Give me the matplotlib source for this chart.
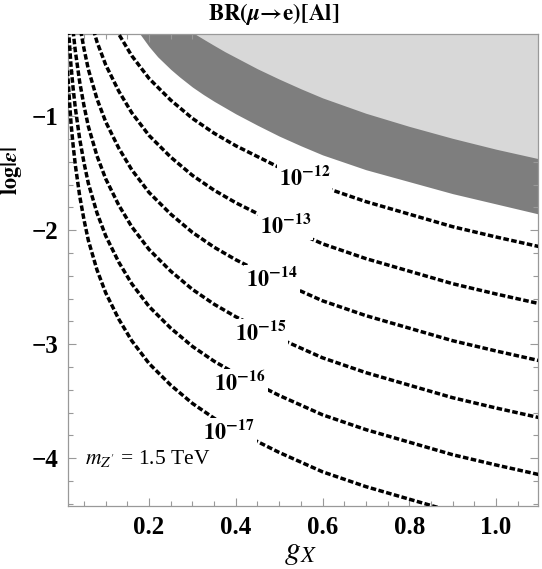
import numpy as np
import matplotlib
matplotlib.use("Agg")
import matplotlib.pyplot as plt
from matplotlib.ticker import MultipleLocator

plt.rcParams["font.family"] = ["Liberation Serif", "DejaVu Serif"]
plt.rcParams["mathtext.fontset"] = "stix"

# g_X grid on which the contours were read
gx = [0.012, 0.015, 0.02, 0.025, 0.03, 0.04, 0.05, 0.06, 0.08, 0.10, 0.13, 0.16,
      0.20, 0.25, 0.30, 0.35, 0.40, 0.50, 0.60, 0.70, 0.80, 0.90, 1.00, 1.10]

# log|eps| along each BR contour
br12 = [1.90, 1.72, 1.44, 1.24, 1.07, 0.80, 0.59, 0.41, 0.15, -0.05, -0.28, -0.47,
        -0.67, -0.86, -1.02, -1.15, -1.26, -1.45, -1.62, -1.75, -1.86, -1.97, -2.06, -2.145]
br13 = [1.40, 1.22, 0.94, 0.74, 0.57, 0.30, 0.09, -0.09, -0.35, -0.55, -0.78, -0.97,
        -1.17, -1.36, -1.52, -1.65, -1.76, -1.95, -2.12, -2.25, -2.36, -2.47, -2.56, -2.645]
br14 = [0.90, 0.72, 0.44, 0.24, 0.07, -0.20, -0.41, -0.59, -0.85, -1.05, -1.28, -1.47,
        -1.67, -1.86, -2.02, -2.15, -2.26, -2.45, -2.62, -2.75, -2.86, -2.97, -3.06, -3.145]
br15 = [0.40, 0.22, -0.06, -0.26, -0.43, -0.70, -0.91, -1.09, -1.35, -1.55, -1.78, -1.97,
        -2.17, -2.36, -2.52, -2.65, -2.76, -2.95, -3.12, -3.25, -3.36, -3.47, -3.56, -3.645]
br16 = [-0.10, -0.28, -0.56, -0.76, -0.93, -1.20, -1.41, -1.59, -1.85, -2.05, -2.28, -2.47,
        -2.67, -2.86, -3.02, -3.15, -3.26, -3.45, -3.62, -3.75, -3.86, -3.97, -4.06, -4.145]
br17 = [-0.60, -0.78, -1.06, -1.26, -1.43, -1.70, -1.91, -2.09, -2.35, -2.55, -2.78, -2.97,
        -3.17, -3.36, -3.52, -3.65, -3.76, -3.95, -4.12, -4.25, -4.36, -4.47, -4.56, -4.645]
contours = [br12, br13, br14, br15, br16, br17]
labels = ["12", "13", "14", "15", "16", "17"]
label_x = [0.559, 0.514, 0.484, 0.457, 0.410, 0.384]
label_y = [-1.546, -1.96, -2.43, -2.90, -3.345, -3.775]

# excluded regions (lower edge of dark band, edge of light region)
band_x = [0.16, 0.179, 0.20, 0.22, 0.25, 0.27, 0.30, 0.325, 0.35, 0.375, 0.40, 0.45,
          0.50, 0.55, 0.60, 0.70, 0.80, 0.90, 1.00, 1.10]
band_lo = [-0.17, -0.28, -0.39, -0.48, -0.59, -0.655, -0.745, -0.81, -0.87, -0.925, -0.98, -1.08,
           -1.175, -1.26, -1.34, -1.47, -1.575, -1.68, -1.77, -1.86]
light_x = [0.28, 0.306, 0.33, 0.35, 0.375, 0.40, 0.45, 0.50, 0.55, 0.60, 0.70, 0.80,
           0.90, 1.00, 1.10]
light_lo = [-0.22, -0.28, -0.335, -0.38, -0.435, -0.485, -0.585, -0.675, -0.76, -0.84, -0.975, -1.09,
            -1.195, -1.29, -1.375]

fig = plt.figure(figsize=(5.42, 5.69), dpi=100)
ax = fig.add_axes([0.125, 0.1107, 0.8677, 0.8295])

ax.fill_between(band_x, band_lo, 0.5, color="#7e7e7e", lw=0, zorder=1)
ax.fill_between(light_x, light_lo, 0.5, color="#d8d8d8", lw=0, zorder=2)

for ys in contours:
    ax.plot(gx, ys, color="black", lw=2.5, linestyle=(0, (1.6, 0.7)),
            dash_capstyle="butt", zorder=3)

for lx, ly, lab in zip(label_x, label_y, labels):
    ax.text(lx, ly, r"$\mathbf{10^{-%s}}$" % lab, fontsize=16, ha="center", va="center",
            zorder=4, bbox=dict(facecolor="white", edgecolor="none", pad=1.5))

ax.text(0.053, -4.0, r"$m_{Z'}$ = 1.5 TeV", fontsize=15.5, ha="left", va="center", zorder=4)

ax.set_xlim(0.0125, 1.097)
ax.set_ylim(-4.42, -0.28)
ax.xaxis.set_major_locator(MultipleLocator(0.2))
ax.xaxis.set_minor_locator(MultipleLocator(0.05))
ax.yaxis.set_major_locator(MultipleLocator(1))
ax.yaxis.set_minor_locator(MultipleLocator(0.2))
ax.tick_params(which="both", direction="in", top=True, right=True, color="#999999")
ax.tick_params(which="major", length=6, width=0.8, labelsize=18, pad=7)
ax.tick_params(which="minor", length=3.5, width=0.8)
for t in ax.get_xticklabels() + ax.get_yticklabels():
    t.set_fontweight("bold")
for s in ax.spines.values():
    s.set_color("#999999")
    s.set_linewidth(0.9)

ax.set_xlabel(r"$g_X$", fontsize=23)
ax.xaxis.set_label_coords(0.494, -0.068)
ax.set_ylabel(r"$\mathbf{log|}\boldsymbol{\epsilon}\mathbf{|}$", fontsize=16)
ax.yaxis.set_label_coords(-0.093, 0.71)
fig.text(0.505, 0.976, r"$\mathbf{BR(}\boldsymbol{\mu}\mathbf{\!\rightarrow\! e)[Al]}$",
         fontsize=16.5, ha="center", va="center")

fig.savefig("out.png", dpi=100)
